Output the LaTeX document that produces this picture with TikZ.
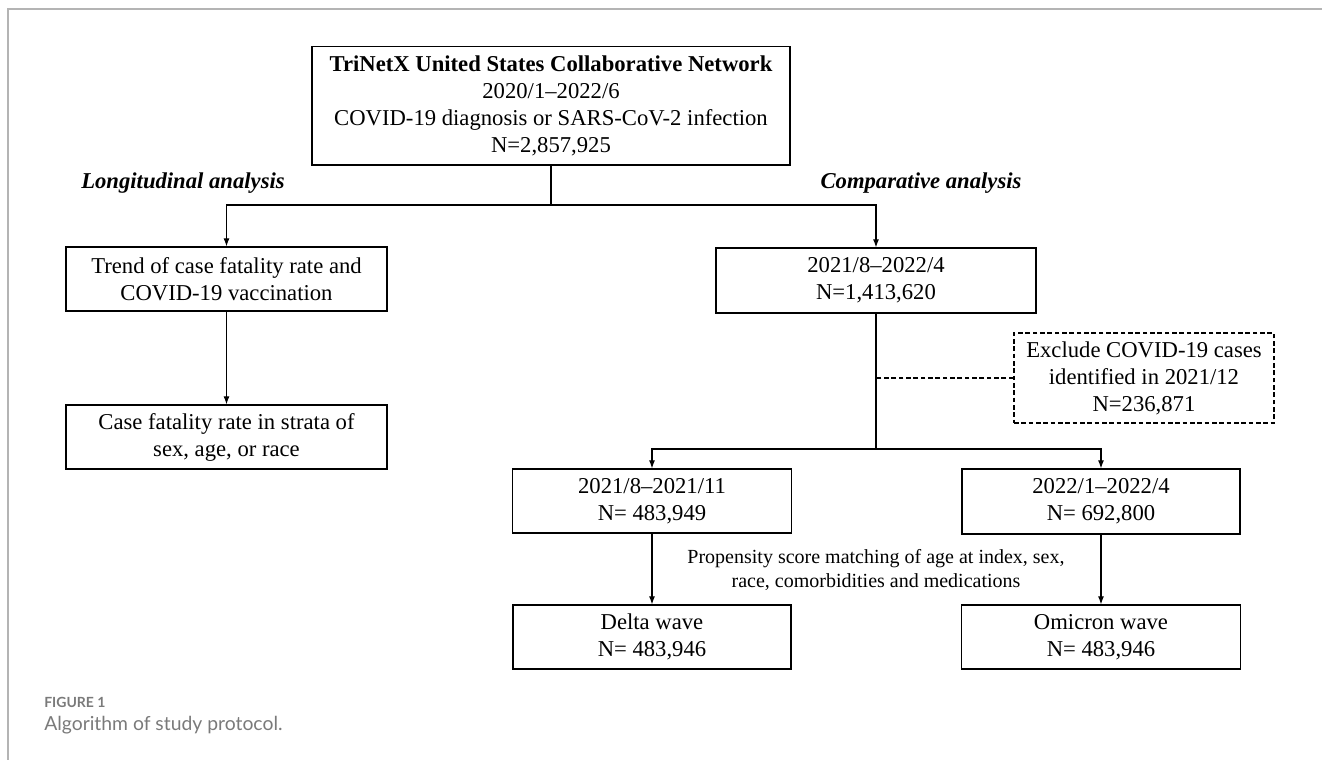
\documentclass[tikz,border=0pt]{standalone}
\usepackage{fontspec}
\setmainfont{Liberation Serif}
\newfontfamily\capfont{Lato}
\usetikzlibrary{arrows.meta}
\definecolor{framegray}{HTML}{B4B4B4}
\definecolor{capgray}{HTML}{7A7A7A}

\begin{document}
\begin{tikzpicture}[x=0.75pt,y=-0.75pt]
        \tikzset{
          box/.style={draw=black, line width=1pt, rectangle, align=center, inner sep=2pt, font=\fontsize{17}{20.3}\selectfont},
          exbox/.style={box, dash pattern=on 3.5pt off 2pt, line width=0.8pt},
          lbl/.style={draw=none, fill=none, inner sep=0pt, align=center},
          arr/.style={line width=0.8pt, -{Latex[length=6pt,width=4.5pt]}},
          conn/.style={line width=0.8pt}
        }
        \useasboundingbox (0,0) rectangle (1322,760);
        \draw[framegray, line width=1.5pt] (1322,9) -- (8,9) -- (8,760);

        % — source cohort —
        \node[box, minimum width=358.5pt, minimum height=89pt] (src) at (551,105.5)
          {\textbf{TriNetX United States Collaborative Network}\\2020/1--2022/6\\COVID-19 diagnosis or SARS-CoV-2 infection\\N=2,857,925};
        \coordinate (split1) at (551,205);
        \node[lbl, font=\fontsize{17}{20}\selectfont\bfseries\itshape] (longlbl) at (183,183) {Longitudinal analysis};
        \node[lbl, font=\fontsize{17}{20}\selectfont\bfseries\itshape] (complbl) at (921,183) {Comparative analysis};

        % — longitudinal branch —
        \node[box, minimum width=240.75pt, minimum height=48pt] (trend) at (226.5,279)
          {Trend of case fatality rate and\\COVID-19 vaccination};
        \node[box, minimum width=240.75pt, minimum height=48pt] (strata) at (226.5,437)
          {Case fatality rate in strata of\\sex, age, or race};

        % — comparative branch —
        \node[box, minimum width=240pt, minimum height=48.75pt] (cmp) at (876,280.5)
          {2021/8--2022/4\\N=1,413,620};
        \node[exbox, minimum width=195pt, minimum height=67.5pt] (excl) at (1144,378)
          {Exclude COVID-19 cases\\identified in 2021/12\\N=236,871};
        \coordinate (split2) at (876,449);
        \node[box, minimum width=209.25pt, minimum height=48pt] (delta1) at (652,501)
          {2021/8--2021/11\\N= 483,949};
        \node[box, minimum width=208.5pt, minimum height=48.75pt] (omi1) at (1101,501.5)
          {2022/1--2022/4\\N= 692,800};
        \node[lbl, font=\fontsize{15}{18}\selectfont] (psm) at (876,570)
          {Propensity score matching of age at index, sex,\\race, comorbidities and medications};
        \node[box, minimum width=208.5pt, minimum height=48pt] (delta2) at (652,637)
          {Delta wave\\N= 483,946};
        \node[box, minimum width=209.25pt, minimum height=48pt] (omi2) at (1101,637)
          {Omicron wave\\N= 483,946};

        % — connectors —
        \draw[conn] (src.south) -- (split1);
        \draw[arr] (split1) -| (trend.north);
        \draw[arr] (split1) -| (cmp.north);
        \draw[arr] (trend.south) -- (strata.north);
        \draw[conn] (cmp.south) -- (split2);
        \draw[conn, dash pattern=on 3.5pt off 2pt] (excl.west) -- (excl.west -| split2);
        \draw[arr] (split2) -| (delta1.north);
        \draw[arr] (split2) -| (omi1.north);
        \draw[arr] (delta1.south) -- (delta2.north);
        \draw[arr] (omi1.south) -- (omi2.north);

        % — caption —
        \node[lbl, anchor=west, text=capgray, font=\capfont\bfseries\fontsize{10.5}{12}\selectfont] (fignum) at (44,702) {FIGURE 1};
        \node[lbl, anchor=west, text=capgray, font=\capfont\fontsize{14.5}{17}\selectfont] (figcap) at (44,725) {Algorithm of study protocol.};
\end{tikzpicture}
\end{document}
